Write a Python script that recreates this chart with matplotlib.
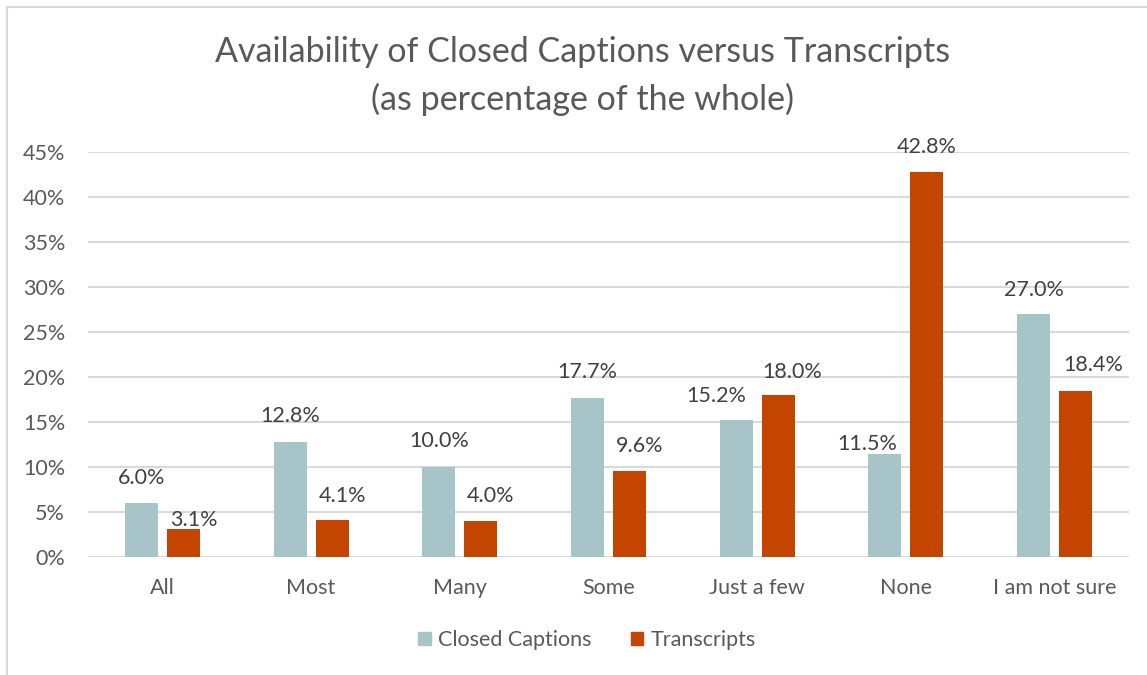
import numpy as np
import matplotlib
matplotlib.use("Agg")
import matplotlib.pyplot as plt
from matplotlib.lines import Line2D
from matplotlib.patches import Patch

# data
categories = ["All", "Most", "Many", "Some", "Just a few", "None", "I am not sure"]
closed_captions = [6.0, 12.8, 10.0, 17.7, 15.2, 11.5, 27.0]
transcripts = [3.1, 4.1, 4.0, 9.6, 18.0, 42.8, 18.4]
yticks = [0, 5, 10, 15, 20, 25, 30, 35, 40, 45]

# label nudges (px) to mimic the original label placement
cc_dx = [0, 0, 0, 0, -20, -18, 0]
cc_dy = [25, 26, 26, 26, 24, 10, 24]
tr_dx = [11, 10, 10, 10, 14, 0, 18]
tr_dy = [9, 24, 25, 25, 23, 25, 26]

plt.rcParams['font.family'] = ['Lato', 'DejaVu Sans']
txt = '#595959'
teal = '#A7C4C8'
orange = '#C44500'

W, H = 1147, 675
fig = plt.figure(figsize=(W / 100, H / 100), dpi=100)

# outer chart frame
fig.add_artist(Line2D([7 / W, 7 / W], [0, 1 - 7 / H], color='#D9D9D9', lw=1.5))
fig.add_artist(Line2D([7 / W, 1], [1 - 7 / H, 1 - 7 / H], color='#D9D9D9', lw=1.5))

ax = fig.add_axes([88 / W, 1 - 557 / H, 1041 / W, 405 / H])
x = np.arange(len(categories))
bw = 0.222
off = 0.141
ax.bar(x - off, closed_captions, bw, color=teal, zorder=3)
ax.bar(x + off, transcripts, bw, color=orange, zorder=3)

px = 72 / 100
for i in range(len(categories)):
    ax.annotate(f"{closed_captions[i]:.1f}%", (x[i] - off, closed_captions[i]),
                xytext=(cc_dx[i] * px, cc_dy[i] * px), textcoords='offset points',
                ha='center', va='center', fontsize=15.5, color='#404040')
    ax.annotate(f"{transcripts[i]:.1f}%", (x[i] + off, transcripts[i]),
                xytext=(tr_dx[i] * px, tr_dy[i] * px), textcoords='offset points',
                ha='center', va='center', fontsize=15.5, color='#404040')

ax.set_xlim(-0.5, len(categories) - 0.5)
ax.set_ylim(0, 45)
ax.set_yticks(yticks)
ax.set_yticklabels([f"{t}%" for t in yticks])
ax.set_xticks(x)
ax.set_xticklabels(categories)
ax.tick_params(axis='both', length=0, labelsize=15.5, labelcolor=txt)
ax.tick_params(axis='x', pad=15)
ax.tick_params(axis='y', pad=16.5)
ax.grid(axis='y', color='#D9D9D9', lw=1.5, zorder=0)
for s in ax.spines.values():
    s.set_visible(False)

fig.text(583 / W, 1 - 52 / H, "Availability of Closed Captions versus Transcripts",
         ha='center', va='center', fontsize=24.5, color=txt)
fig.text(583 / W, 1 - 99 / H, "(as percentage of the whole)",
         ha='center', va='center', fontsize=24.5, color=txt)

handles = [Patch(color=teal, label="Closed Captions"),
           Patch(color=orange, label="Transcripts")]
fig.legend(handles=handles, loc='center', bbox_to_anchor=(587 / W, 1 - 640 / H),
           ncol=2, frameon=False, fontsize=15.5, labelcolor=txt,
           handlelength=0.6, handleheight=0.6, handletextpad=0.35, columnspacing=1.8)

fig.savefig("out.png", dpi=100)
